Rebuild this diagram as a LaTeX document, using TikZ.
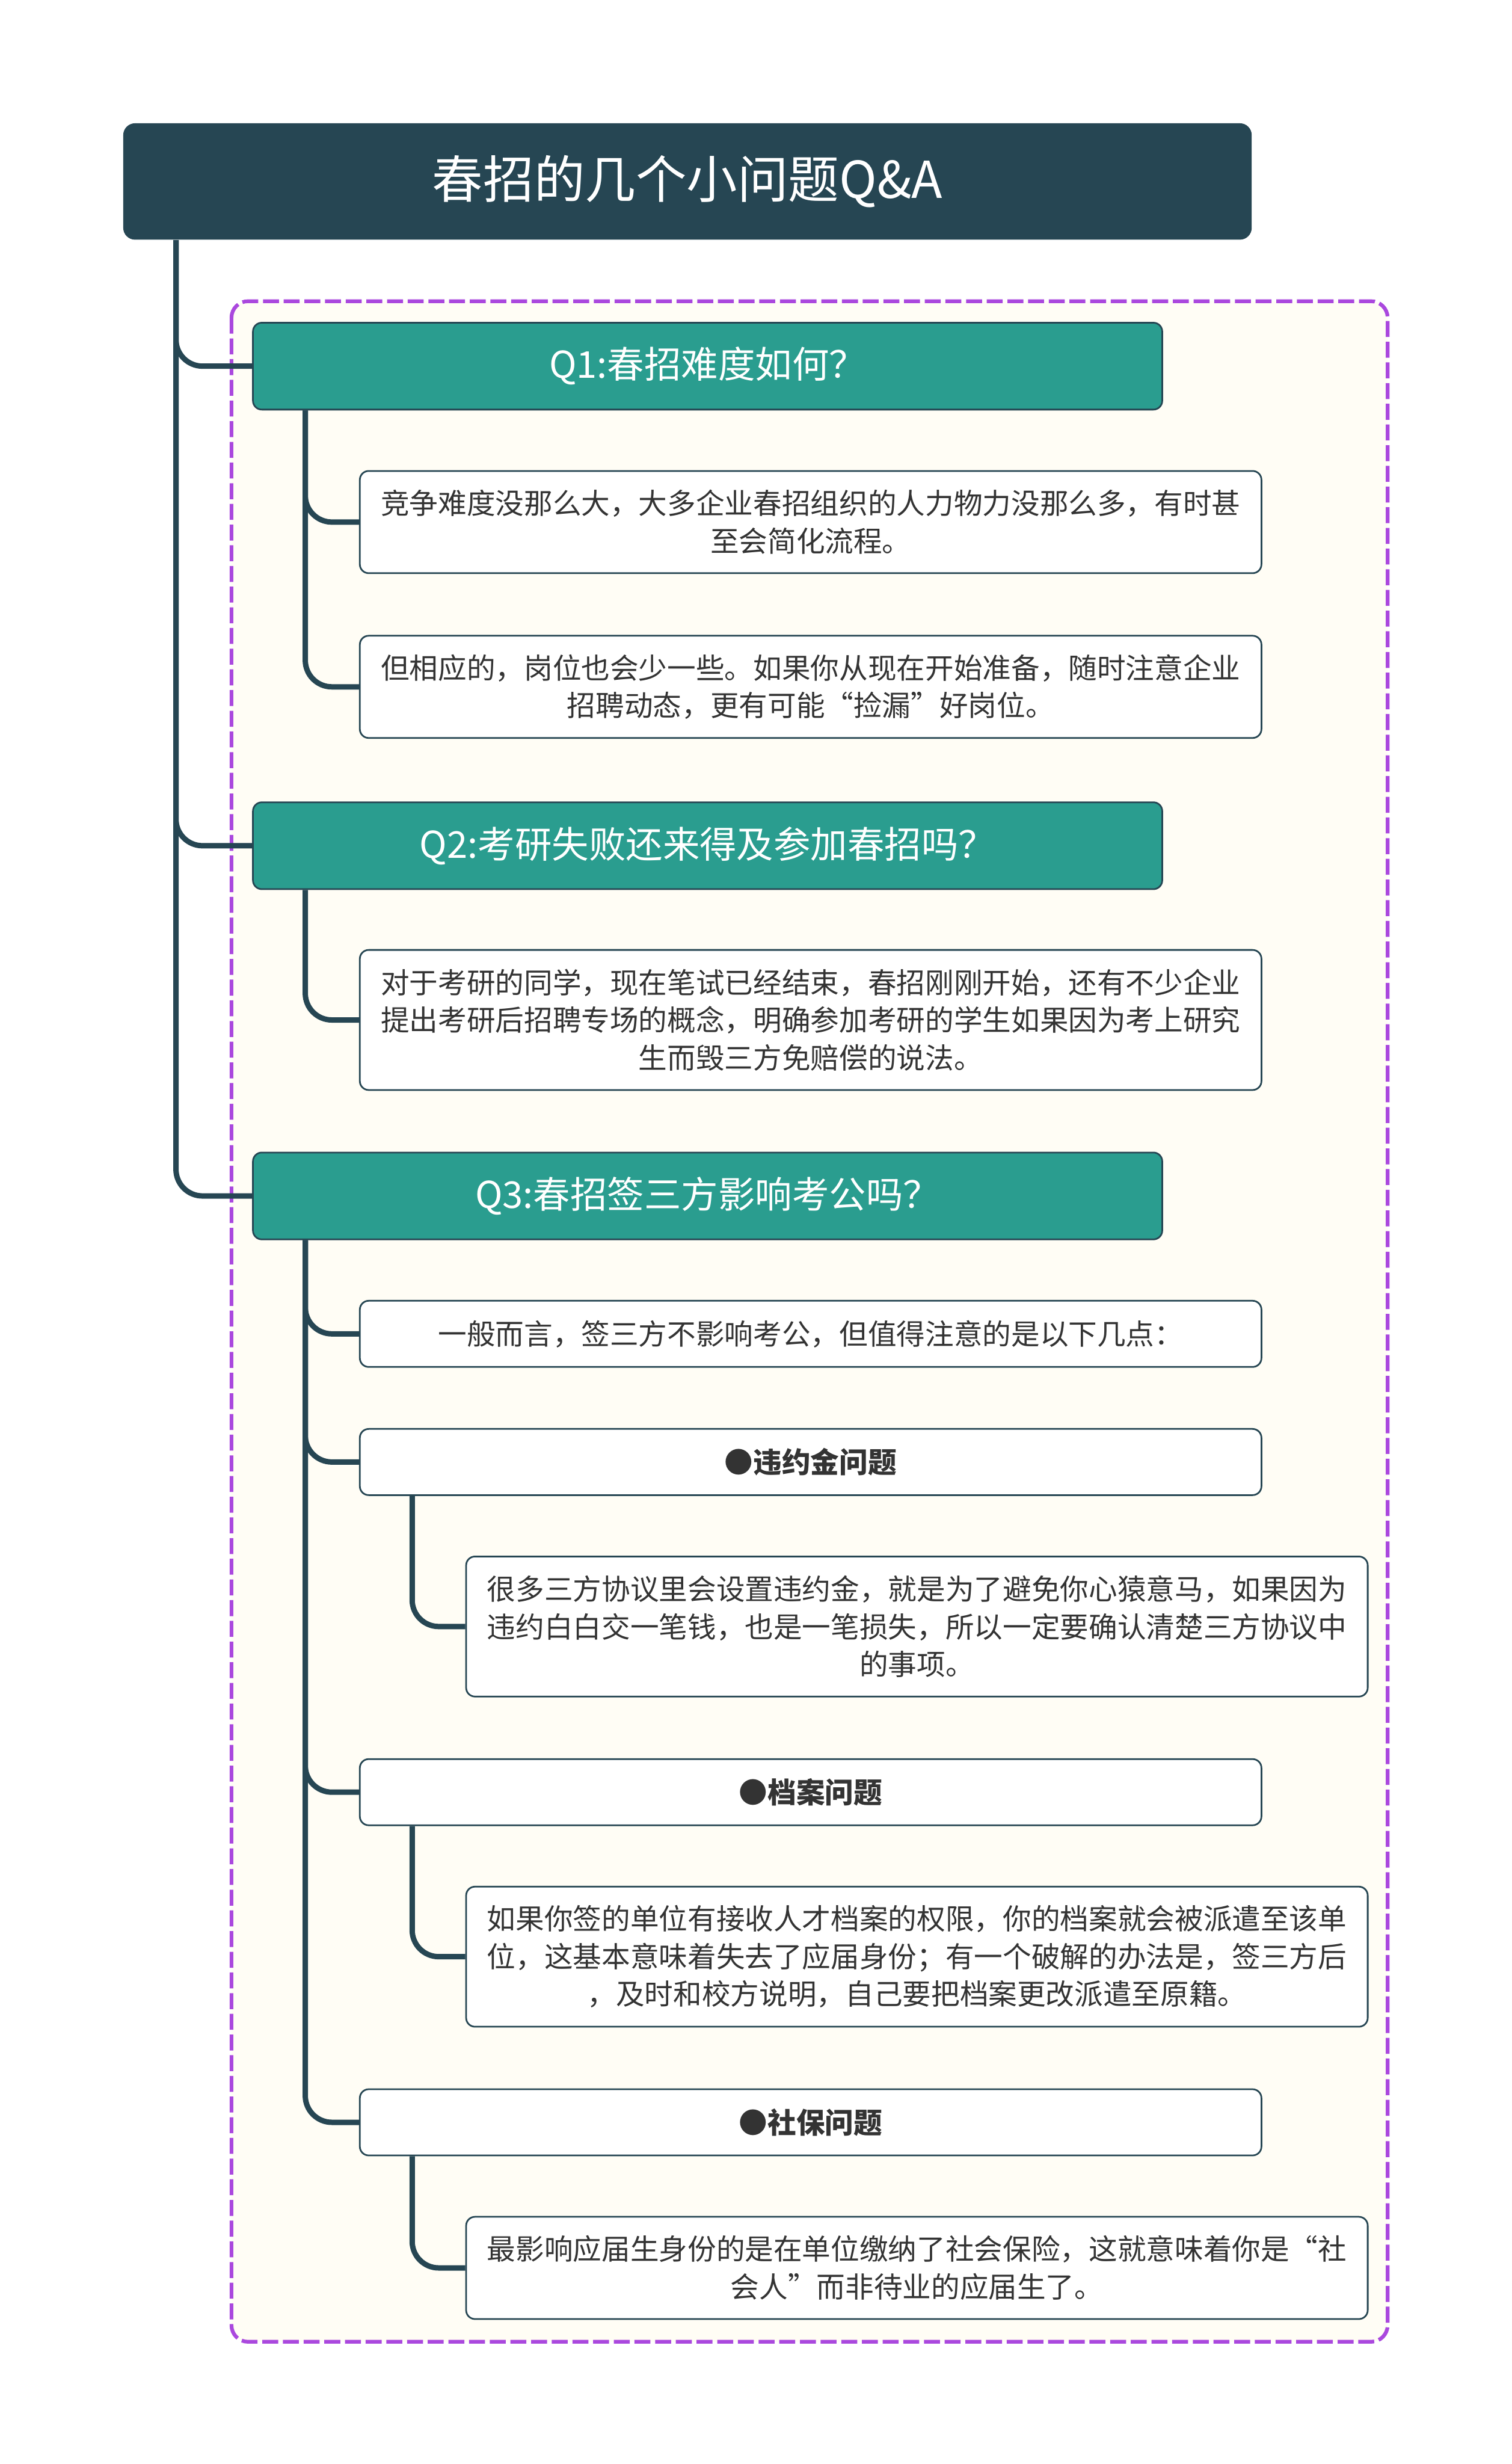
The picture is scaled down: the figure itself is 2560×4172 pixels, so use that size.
\documentclass[tikz,border=0pt]{standalone}
\usepackage{fontspec}
\setmainfont{Noto Sans CJK SC}
\usepackage{tikz}
\usetikzlibrary{positioning,calc,backgrounds}
\usepackage{xcolor}
\definecolor{rootcol}{RGB}{38,70,83}
\definecolor{qcol}{RGB}{42,157,143}
\definecolor{framecol}{RGB}{170,72,222}
\definecolor{creamcol}{RGB}{255,253,245}
\definecolor{txtcol}{RGB}{51,51,51}
\tikzset{
  % title box
  rootbox/.style={rectangle, rounded corners=0.2cm, fill=rootcol, text=white, minimum width=19.1cm,
                  minimum height=1.97cm, font=\fontsize{24.5}{28}\selectfont, anchor=north west},
  % question box
  qbox/.style={rectangle, rounded corners=0.15cm, draw=rootcol, line width=0.8pt, fill=qcol, text=white,
               minimum width=15.39cm, minimum height=1.47cm, font=\fontsize{17.8}{21}\selectfont, anchor=north west},
  % answer box
  abox/.style={rectangle, rounded corners=0.15cm, draw=rootcol, line width=0.8pt, fill=white, text=txtcol,
               minimum width=15.26cm, minimum height=#1, text width=14.8cm, align=center, inner sep=0pt,
               font=\fontsize{13.8}{18.1}\selectfont, anchor=north west},
  abox/.default={1.12cm},
  % heading box inside Q3
  hbox/.style={abox, font=\fontsize{13.8}{18.1}\selectfont\bfseries},
  % branch line
  link/.style={draw=rootcol, line width=2.6pt, rounded corners=0.45cm},
  % group frame
  groupframe/.style={draw=framecol, line width=1.8pt, dash pattern=on 0.27cm off 0.08cm, fill=creamcol,
                     rounded corners=0.28cm},
}

\begin{document}
\begin{tikzpicture}[x=0.01cm, y=-0.01cm]
  \useasboundingbox (0,0) rectangle (2560,4172);

  \node[rootbox] (title) at (208,208) {春招的几个小问题Q\&A};

  % questions
  \node[qbox] (q1) at (427,545) {Q1:春招难度如何？};
  \node[qbox] (q2) at (427,1357) {Q2:考研失败还来得及参加春招吗？};
  \node[qbox] (q3) at (427,1950) {Q3:春招签三方影响考公吗？};

  % answers to Q1
  \node[abox=1.73cm] (q1a) at (608,796)
    {竞争难度没那么大，大多企业春招组织的人力物力没那么多，有时甚\\至会简化流程。};
  \node[abox=1.73cm] (q1b) at (608,1075)
    {但相应的，岗位也会少一些。如果你从现在开始准备，随时注意企业\\招聘动态，更有可能“捡漏”好岗位。};

  % answer to Q2
  \node[abox=2.37cm] (q2a) at (608,1607)
    {对于考研的同学，现在笔试已经结束，春招刚刚开始，还有不少企业\\提出考研后招聘专场的概念，明确参加考研的学生如果因为考上研究\\生而毁三方免赔偿的说法。};

  % answers to Q3
  \node[abox] (q3a) at (608,2201) {一般而言，签三方不影响考公，但值得注意的是以下几点：};
  \node[hbox] (q3b) at (608,2418) {●违约金问题};
  \node[abox=2.37cm] (q3b1) at (788,2634)
    {很多三方协议里会设置违约金，就是为了避免你心猿意马，如果因为\\违约白白交一笔钱，也是一笔损失，所以一定要确认清楚三方协议中\\的事项。};
  \node[hbox] (q3c) at (608,2977) {●档案问题};
  \node[abox=2.37cm] (q3c1) at (788,3193)
    {如果你签的单位有接收人才档案的权限，你的档案就会被派遣至该单\\位，这基本意味着失去了应届身份；有一个破解的办法是，签三方后\\，及时和校方说明，自己要把档案更改派遣至原籍。};
  \node[hbox] (q3d) at (608,3536) {●社保问题};
  \node[abox=1.73cm] (q3d1) at (788,3752)
    {最影响应届生身份的是在单位缴纳了社会保险，这就意味着你是“社\\会人”而非待业的应届生了。};

  \begin{scope}[on background layer]
    \draw[groupframe] (392,510) rectangle (2350,3965);
    \foreach \p/\c in {title/q1, title/q2, title/q3, q1/q1a, q1/q1b, q2/q2a, q3/q3a, q3/q3b, q3/q3c,
                       q3/q3d, q3b/q3b1, q3c/q3c1, q3d/q3d1}
      \draw[link] ($(\p.south west)+(90,0)$) |- (\c.west);
  \end{scope}
\end{tikzpicture}
\end{document}
